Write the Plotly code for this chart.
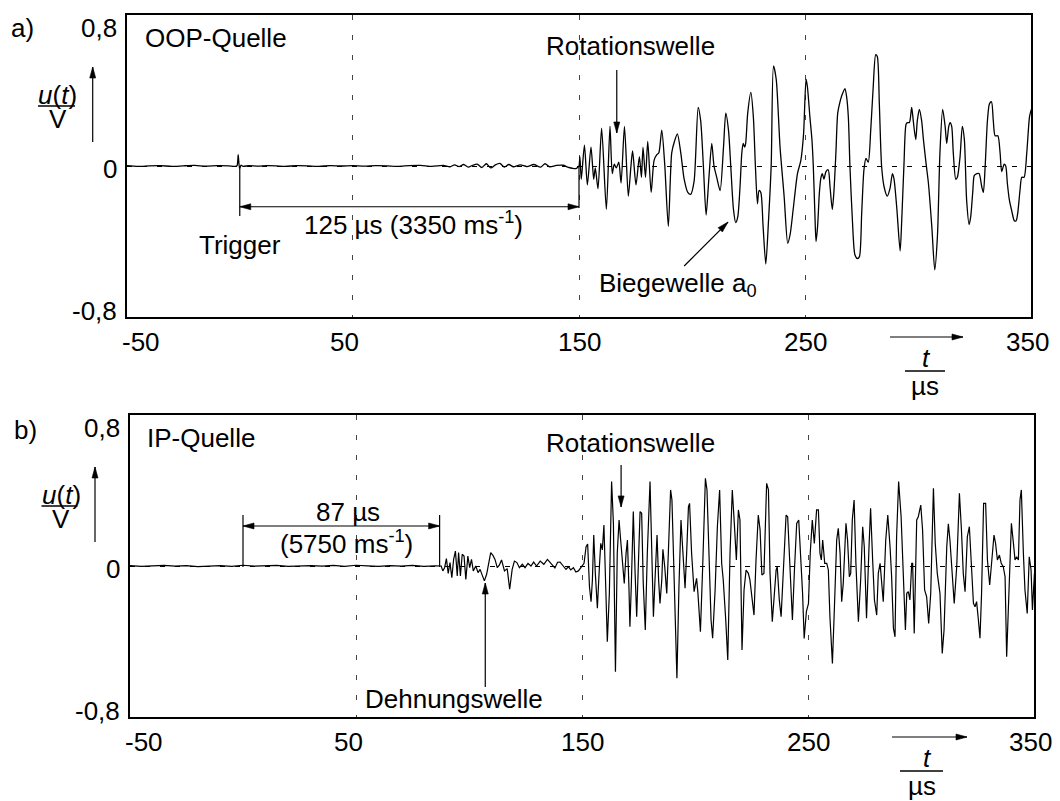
import math
import plotly.graph_objects as go

# ---------------- data ----------------
x_ticks = [-50, 50, 150, 250, 350]
x_tick_text = ["-50", "50", "150", "250", "350"]
y_ticks = [-0.8, 0, 0.8]
y_tick_text = ["-0,8", "0", "0,8"]
grid_t = [50, 150, 250]

# panel a) OOP source: baseline before arrival (t in µs, u in V)
a_pre_t = [-50, -45, -40, -35, -30, -25, -20, -15, -10, -5,
           -2, -1.2, -0.7, -0.1, 0.5, 1.5, 4, 8, 12, 16,
           20, 25, 30, 35, 40, 45, 50, 55, 60, 65,
           70, 75, 80, 85, 90, 93, 95, 97, 99, 101,
           103, 105, 107, 109, 111, 113, 115, 117, 119, 121,
           124, 127, 130, 133, 135, 137, 140, 143, 145, 147,
           148.5, 149.5]
a_pre_v = [0.002, -0.002, 0.001, 0.002, -0.002, 0.001, 0.003, -0.001, 0.002, 0.001,
           -0.002, 0.002, 0.060, -0.013, 0.004, -0.002, 0.002, -0.001, 0.002, 0.001,
           -0.002, 0.002, 0.001, -0.002, 0.002, 0.000, 0.002, -0.001, 0.002, 0.001,
           -0.002, 0.002, 0.003, -0.002, 0.003, -0.004, 0.006, -0.003, 0.008, -0.006,
           0.004, 0.010, -0.008, 0.012, -0.010, 0.006, 0.014, -0.006, 0.008, -0.004,
           0.006, -0.003, 0.008, -0.006, 0.012, -0.004, 0.003, 0.004, -0.006, -0.012,
           -0.014, -0.006]

# panel a) signal
a_sig_t = [150.0, 150.4, 151.0, 152.4, 153.7, 155.3, 156.5, 157.2, 158.4, 160.0,
           162.1, 163.7, 164.7, 165.6, 166.5, 167.6, 168.6, 170.1, 171.8, 172.9,
           173.7, 175.2, 176.7, 177.6, 178.3, 179.4, 180.4, 181.9, 183.2, 184.4,
           185.3, 186.6, 187.9, 189.5, 191.0, 192.2, 193.5, 195.0, 196.5, 198.1,
           199.4, 200.9, 202.7, 203.8, 205.0, 206.2, 207.4, 208.7, 209.7, 210.9,
           212.4, 213.9, 214.9, 216.1, 217.1, 218.3, 219.3, 220.2, 221.2, 222.0,
           222.6, 223.2, 223.7, 224.6, 226.0, 227.1, 228.0, 228.9, 229.6, 230.4,
           231.4, 232.6, 233.8, 235.0, 236.0, 237.2, 238.9, 240.7, 242.3, 243.4,
           244.8, 246.6, 248.1, 249.3, 250.4, 251.0, 252.1, 253.0, 253.6, 254.3,
           254.8, 255.5, 256.3, 257.0, 257.6, 258.3, 259.2, 260.2, 261.0, 262.0,
           262.7, 263.6, 264.4, 265.4, 266.4, 267.6, 268.3, 269.1, 269.8, 270.9,
           272.0, 273.1, 274.0, 275.0, 276.0, 276.9, 277.9, 279.0, 280.1, 281.2,
           281.9, 282.8, 283.8, 284.9, 286.3, 287.5, 288.6, 289.3, 290.5, 292.0,
           292.7, 293.7, 294.6, 295.2, 296.1, 297.1, 297.8, 298.9, 299.6, 300.5,
           301.5, 302.3, 303.5, 304.5, 306.0, 307.3, 308.5, 309.6, 310.8, 311.9,
           312.6, 313.5, 314.1, 314.8, 315.5, 316.6, 317.3, 318.5, 319.5, 320.4,
           321.4, 322.5, 323.2, 324.1, 324.8, 325.9, 326.9, 328.1, 328.8, 329.6,
           330.6, 331.5, 332.4, 333.2, 334.0, 335.2, 336.2, 336.9, 338.0, 338.7,
           339.4, 340.3, 341.4, 342.5, 343.3, 344.0, 345.0, 345.8, 346.8, 348.0,
           349.2, 350.0]
a_sig_v = [0.00, 0.05, -0.07, 0.11, -0.10, 0.10, -0.07, -0.01, -0.12, 0.20,
           -0.23, 0.21, -0.04, 0.01, -0.01, 0.02, -0.09, 0.21, -0.16, -0.01,
           0.08, -0.10, 0.05, -0.06, 0.10, -0.06, 0.13, -0.14, 0.03, 0.06,
           0.07, 0.19, 0.01, -0.32, 0.07, 0.13, 0.17, 0.07, -0.07, -0.14,
           -0.15, -0.08, 0.31, 0.24, 0.00, -0.26, -0.07, 0.12, 0.00, -0.06,
           -0.13, 0.10, 0.28, 0.19, 0.00, -0.23, -0.30, -0.27, -0.11, 0.07,
           0.12, 0.10, 0.12, 0.28, 0.39, 0.26, 0.00, -0.20, -0.13, -0.14,
           -0.32, -0.52, -0.29, 0.01, 0.53, 0.46, 0.10, -0.16, -0.41, -0.36,
           -0.22, -0.04, 0.03, 0.17, 0.46, 0.42, 0.26, 0.14, 0.00, -0.25,
           -0.40, -0.32, -0.14, -0.06, -0.04, -0.07, -0.03, -0.02, -0.11, -0.23,
           -0.14, 0.07, 0.28, 0.34, 0.38, 0.41, 0.37, 0.26, 0.00, -0.29,
           -0.47, -0.49, -0.48, -0.25, -0.02, 0.04, 0.02, 0.19, 0.42, 0.59,
           0.58, 0.33, 0.00, -0.11, -0.16, -0.12, -0.04, -0.07, -0.22, -0.45,
           -0.29, 0.01, 0.22, 0.23, 0.23, 0.31, 0.24, 0.14, 0.24, 0.30,
           0.24, 0.14, 0.01, -0.09, -0.32, -0.55, -0.37, 0.07, 0.30, 0.21,
           0.12, 0.21, 0.23, 0.21, 0.07, -0.07, -0.06, 0.05, 0.21, 0.14,
           -0.18, -0.31, -0.27, -0.14, -0.05, -0.04, -0.04, -0.11, -0.14, 0.00,
           0.24, 0.33, 0.34, 0.24, 0.16, 0.16, 0.07, -0.03, 0.01, 0.00,
           -0.09, -0.18, -0.24, -0.29, -0.29, -0.25, -0.13, -0.06, -0.06, 0.07,
           0.26, 0.30]

# panel b) IP source: baseline before arrival
b_pre_t = [-50, -45, -40, -35, -30, -25, -20, -15, -10, -5,
           0, 5, 10, 15, 20, 25, 30, 35, 40, 45,
           50, 55, 60, 65, 70, 75, 80, 85, 87.7]
b_pre_v = [0.002, -0.002, 0.001, 0.003, -0.001, 0.002, -0.003, 0.001, 0.002, -0.002,
           0.004, -0.001, 0.002, 0.003, -0.002, 0.001, 0.002, -0.001, 0.003, -0.002,
           0.004, 0.001, -0.002, 0.002, -0.001, 0.003, -0.002, 0.001, 0.000]

# panel b) extensional wave (Dehnungswelle)
b_dehn_t = [88.4, 89.2, 90.0, 90.8, 91.6, 92.4, 93.2, 94.0, 94.8, 95.4,
            96.2, 97.0, 97.8, 98.6, 99.5, 100.3, 101.1, 101.9, 103.0, 104.0,
            104.9, 105.9, 106.8, 107.8, 108.7, 109.6, 110.6, 111.5, 112.5, 113.4,
            114.4, 115.7, 116.9, 118.0, 119.1, 120.1, 121.2, 122.3, 123.6, 124.8,
            126.1, 127.4, 128.6, 129.9, 131.5, 133.1, 134.7, 136.3, 138.0, 139.2,
            140.3, 141.7, 142.9, 144.0, 145.0, 146.2, 147.3, 148.4, 149.4]
b_dehn_v = [-0.026, -0.009, 0.039, -0.039, 0.018, -0.062, 0.035, 0.079, -0.053, 0.071,
            -0.053, 0.062, 0.053, -0.071, 0.053, -0.009, 0.035, -0.026, 0.000, -0.035,
            -0.018, -0.053, -0.079, -0.044, 0.018, 0.071, 0.056, 0.035, -0.009, 0.004,
            0.032, -0.026, -0.014, -0.123, -0.018, 0.026, 0.018, -0.009, 0.009, -0.009,
            0.014, 0.000, 0.021, 0.000, 0.026, 0.009, 0.035, 0.010, -0.010, 0.020,
            0.021, 0.000, -0.018, -0.004, -0.021, -0.009, -0.032, -0.026, -0.009]

# panel b) main signal
b_sig_t = [150.0, 150.9, 151.8, 152.5, 153.3, 154.0, 154.6, 155.2, 155.9, 156.8,
           157.7, 158.3, 159.0, 159.7, 160.5, 161.2, 162.1, 163.1, 163.9, 164.8,
           165.6, 166.4, 167.1, 167.9, 168.7, 169.5, 170.1, 170.8, 171.2, 171.8,
           172.7, 173.5, 174.2, 175.1, 175.7, 176.4, 177.1, 178.0, 178.9, 180.1,
           180.8, 181.6, 182.3, 183.2, 183.9, 184.5, 185.3, 185.8, 186.6, 187.5,
           188.2, 189.2, 189.8, 190.7, 192.0, 192.9, 193.8, 194.5, 195.6, 196.3,
           197.1, 197.6, 198.5, 199.6, 200.2, 200.7, 201.3, 202.4, 203.4, 204.6,
           205.3, 206.3, 207.1, 207.8, 208.9, 209.9, 210.9, 211.8, 212.5, 213.6,
           214.5, 215.5, 216.5, 217.4, 218.3, 219.2, 219.9, 220.8, 221.7, 222.6,
           223.6, 224.3, 225.5, 226.1, 227.0, 228.0, 228.8, 229.6, 230.5, 231.7,
           232.5, 233.2, 234.2, 235.1, 235.9, 236.4, 237.3, 238.1, 239.1, 240.3,
           241.0, 242.0, 243.1, 244.0, 245.0, 245.9, 246.8, 247.6, 248.3, 249.3,
           250.2, 251.0, 251.9, 252.8, 253.8, 254.6, 255.3, 255.9, 256.5, 257.4,
           258.3, 259.0, 259.7, 260.8, 261.7, 262.7, 263.4, 264.2, 264.9, 265.6,
           266.8, 267.5, 268.3, 268.9, 269.6, 270.4, 271.2, 272.3, 273.3, 274.2,
           274.9, 275.9, 277.0, 277.7, 278.6, 279.4, 280.4, 281.1, 281.9, 282.6,
           283.3, 284.4, 285.3, 286.3, 287.0, 287.8, 288.5, 289.2, 290.1, 291.2,
           292.2, 293.1, 293.7, 294.4, 295.1, 295.9, 296.3, 297.0, 298.1, 298.8,
           299.9, 300.7, 301.6, 302.5, 303.4, 304.3, 305.5, 306.3, 307.2, 308.4,
           309.4, 310.2, 311.4, 312.1, 312.8, 313.7, 314.7, 315.8, 317.0, 317.9,
           318.7, 319.5, 320.5, 321.4, 322.1, 323.2, 323.9, 324.6, 325.4, 326.1,
           326.8, 327.7, 328.6, 329.4, 330.4, 331.3, 332.3, 333.0, 333.8, 334.7,
           335.5, 336.4, 337.2, 337.9, 339.1, 340.0, 340.9, 341.6, 342.3, 343.1,
           343.8, 344.4, 345.3, 346.0, 347.0, 347.9, 348.7, 349.3, 350.2]
b_sig_v = [-0.004, 0.014, 0.102, 0.117, -0.110, -0.189, -0.074, 0.164, -0.039, -0.224,
           -0.004, 0.120, 0.085, 0.217, -0.110, -0.401, -0.145, 0.447, 0.226, -0.560,
           0.067, 0.244, 0.138, 0.032, -0.092, 0.067, 0.138, -0.127, -0.322, -0.110,
           0.288, -0.039, -0.269, 0.067, 0.288, 0.279, -0.092, -0.339, 0.067, 0.447,
           0.067, -0.269, -0.074, 0.164, -0.074, -0.198, -0.074, 0.088, -0.004, -0.145,
           0.067, 0.403, 0.350, -0.074, -0.595, -0.110, 0.244, 0.102, -0.118, 0.067,
           0.314, 0.332, 0.067, -0.136, -0.092, -0.065, -0.145, -0.348, -0.004, 0.465,
           0.403, 0.067, -0.286, -0.383, -0.127, 0.208, 0.403, 0.014, -0.074, -0.286,
           -0.498, 0.067, 0.403, 0.226, 0.032, 0.297, 0.244, -0.445, -0.127, -0.021,
           -0.039, -0.074, -0.180, -0.260, 0.032, 0.270, 0.191, -0.048, -0.039, 0.438,
           0.403, -0.039, -0.295, -0.163, -0.021, -0.004, -0.180, -0.269, -0.004, 0.270,
           0.261, -0.004, -0.286, -0.021, 0.226, 0.244, 0.067, -0.145, -0.384, -0.240,
           -0.200, 0.070, 0.244, 0.120, 0.297, 0.297, 0.067, 0.032, 0.138, 0.014,
           0.014, -0.021, -0.269, -0.516, -0.216, 0.138, 0.200, 0.067, -0.189, -0.092,
           0.226, 0.138, -0.057, -0.039, 0.244, 0.350, 0.014, -0.295, -0.074, 0.208,
           0.102, -0.277, 0.102, 0.306, 0.032, -0.180, -0.260, -0.039, 0.014, -0.110,
           -0.189, 0.138, 0.270, 0.102, -0.057, -0.330, -0.375, 0.155, 0.447, 0.261,
           -0.118, -0.339, -0.145, -0.136, -0.180, 0.014, 0.014, -0.357, 0.244, 0.261,
           0.323, 0.191, -0.127, -0.163, -0.304, -0.145, 0.412, 0.120, -0.039, -0.145,
           -0.463, -0.339, 0.102, 0.223, 0.138, -0.039, -0.198, -0.004, 0.385, 0.191,
           -0.039, -0.136, 0.155, 0.208, 0.032, -0.198, -0.216, -0.189, -0.286, -0.383,
           -0.145, 0.332, 0.332, 0.032, -0.101, 0.049, 0.164, 0.120, 0.032, 0.058,
           0.014, -0.004, -0.057, -0.481, -0.004, 0.226, 0.120, 0.032, 0.049, 0.032,
           0.350, 0.403, 0.067, -0.127, -0.251, 0.049, -0.021, -0.233, -0.039]

# ---------------- geometry ----------------
W, H = 1060, 801
A_X, A_Y = (126.7, 1031.3), (15.0, 317.0)   # plot area of panel a (px)
B_X, B_Y = (130.0, 1034.0), (415.0, 717.0)   # plot area of panel b (px)
X_RANGE, Y_RANGE = [-50, 350], [-0.8, 0.8]


def xdom(p):
    return [p[0] / W, p[1] / W]


def ydom(p):
    return [1 - p[1] / H, 1 - p[0] / H]


def px_x(px):
    return px / W


def px_y(py):
    return 1 - py / H


SCALE = {
    "a": ((A_X[1] - A_X[0]) / (X_RANGE[1] - X_RANGE[0]), (A_Y[1] - A_Y[0]) / (Y_RANGE[1] - Y_RANGE[0])),
    "b": ((B_X[1] - B_X[0]) / (X_RANGE[1] - X_RANGE[0]), (B_Y[1] - B_Y[0]) / (Y_RANGE[1] - Y_RANGE[0])),
    "paper": (W, H),
}
REFS = {"a": ("x", "y"), "b": ("x2", "y2"), "paper": ("paper", "paper")}

FONT_FAMILY = "Liberation Sans, Arial, Helvetica, sans-serif"
FS = 26

shapes = []
annotations = []


def add_line(panel, x0, y0, x1, y1, width=1.2):
    xr, yr = REFS[panel]
    shapes.append(dict(type="line", xref=xr, yref=yr, x0=x0, y0=y0, x1=x1, y1=y1,
                       line=dict(color="black", width=width), layer="above"))


def add_head(panel, xt, yt, dxp, dyp, L=11.0, hw=3.0):
    xr, yr = REFS[panel]
    n = math.hypot(dxp, dyp)
    ux, uy = dxp / n, dyp / n
    bx, by = -L * ux, -L * uy
    qx, qy = -uy * hw, ux * hw
    path = "M0,0 L{:.2f},{:.2f} L{:.2f},{:.2f} Z".format(bx + qx, by + qy, bx - qx, by - qy)
    shapes.append(dict(type="path", xref=xr, yref=yr, xsizemode="pixel", ysizemode="pixel",
                       xanchor=xt, yanchor=yt, path=path, fillcolor="black",
                       line=dict(color="black", width=0.6), layer="above"))


def add_arrow(panel, x0, y0, x1, y1, both=False, width=1.2):
    sx, sy = SCALE[panel]
    add_line(panel, x0, y0, x1, y1, width)
    dxp, dyp = (x1 - x0) * sx, (y1 - y0) * sy
    add_head(panel, x1, y1, dxp, dyp)
    if both:
        add_head(panel, x0, y0, -dxp, -dyp)


def add_text(panel, x, y, text, xanchor="center", yanchor="middle", xshift=0, yshift=0, size=FS):
    xr, yr = REFS[panel]
    annotations.append(dict(x=x, y=y, xref=xr, yref=yr, text=text, showarrow=False,
                            xanchor=xanchor, yanchor=yanchor, xshift=xshift, yshift=yshift,
                            font=dict(family=FONT_FAMILY, size=size, color="black")))


# ---------------- figure ----------------
fig = go.Figure()
fig.add_trace(go.Scatter(x=a_pre_t + a_sig_t, y=a_pre_v + a_sig_v, mode="lines",
                         line=dict(color="black", width=1.3, shape="spline", smoothing=0.7),
                         xaxis="x", yaxis="y", hoverinfo="skip"))
fig.add_trace(go.Scatter(x=b_pre_t + b_dehn_t + b_sig_t, y=b_pre_v + b_dehn_v + b_sig_v, mode="lines",
                         line=dict(color="black", width=1.2),
                         xaxis="x2", yaxis="y2", hoverinfo="skip"))

xcommon = dict(range=X_RANGE, tickvals=grid_t, showticklabels=False, ticks="",
               showgrid=True, gridcolor="#444444", gridwidth=1, griddash="5px,15px",
               zeroline=False, showline=True, mirror=True, linecolor="black", linewidth=2)
ycommon = dict(range=Y_RANGE, tickvals=[0], showticklabels=False, ticks="",
               showgrid=True, gridcolor="black", gridwidth=1, griddash="5px,10px",
               zeroline=False, showline=True, mirror=True, linecolor="black", linewidth=2)

# tick labels (offsets as in the original drawing)
x_label_shift = [14, -8, 0, 0, -4]
y_label_shift = [6, -3, -13]
for panel in ("a", "b"):
    for t, txt, dx in zip(x_ticks, x_tick_text, x_label_shift):
        add_text(panel, t, Y_RANGE[0], txt, xshift=dx, yshift=-25)
    for v, txt, dy in zip(y_ticks, y_tick_text, y_label_shift):
        add_text(panel, X_RANGE[0], v, txt, xanchor="right", xshift=-8, yshift=dy)

# ---- panel a annotations ----
add_text("a", -42.8, 0.678, "OOP-Quelle", xanchor="left")
add_text("a", 211.0, 0.636, "Rotationswelle", xanchor="right")
add_arrow("a", 166.7, 0.509, 166.7, 0.175)
add_text("a", 0.1, -0.419, "Trigger")
add_line("a", 0.0, -0.005, 0.0, -0.265)
add_line("a", 150.0, 0.0, 150.0, -0.222)
add_arrow("a", 0.0, -0.216, 150.0, -0.216, both=True)
add_text("a", 27.4, -0.302, "125 µs (3350 ms<sup>-1</sup>)", xanchor="left")
add_text("a", 157.8, -0.630, "Biegewelle a<sub>0</sub>", xanchor="left")
add_arrow("a", 196.5, -0.530, 215.9, -0.297)

# ---- panel b annotations ----
add_text("b", -43.4, 0.678, "IP-Quelle", xanchor="left")
add_text("b", 209.6, 0.652, "Rotationswelle", xanchor="right")
add_arrow("b", 167.3, 0.535, 167.3, 0.313)
add_line("b", 0.0, 0.270, 0.0, -0.005)
add_line("b", 87.0, 0.270, 87.0, -0.005)
add_arrow("b", 0.0, 0.212, 87.0, 0.212, both=True)
add_text("b", 46.5, 0.286, "87 µs")
add_text("b", 46.0, 0.127, "(5750 ms<sup>-1</sup>)")
add_text("b", 53.1, -0.705, "Dehnungswelle", xanchor="left")
add_arrow("b", 107.2, -0.641, 107.2, -0.090)

# ---- panel labels and axis titles (paper pixel positions) ----
for label, (lx, ly) in (("a)", (22.5, 28)), ("b)", (25, 430))):
    add_text("paper", px_x(lx), px_y(ly), label)

for (ux, uy, vy, lx0, lx1, ly, ax, ay0, ay1) in ((57.5, 95, 119, 38, 75, 106, 92.7, 142, 67),
                                                   (61, 495, 519, 41.5, 77.5, 506, 95, 542, 467)):
    add_text("paper", px_x(ux), px_y(uy), "<i>u</i>(<i>t</i>)")
    add_text("paper", px_x(ux), px_y(vy), "V")
    add_line("paper", px_x(lx0), px_y(ly), px_x(lx1), px_y(ly), width=1.5)
    add_arrow("paper", px_x(ax), px_y(ay0), px_x(ax), px_y(ay1))

for (ax0, ax1, ay, tx, ty, fx0, fx1, fy, mx, my) in ((890, 963, 337, 926, 358, 905, 945, 371, 925, 386),
                                                      (892, 967, 737, 927, 758, 900, 943, 771, 922, 786)):
    add_arrow("paper", px_x(ax0), px_y(ay), px_x(ax1), px_y(ay))
    add_text("paper", px_x(tx), px_y(ty), "<i>t</i>")
    add_line("paper", px_x(fx0), px_y(fy), px_x(fx1), px_y(fy), width=1.5)
    add_text("paper", px_x(mx), px_y(my), "µs")

fig.update_layout(
    width=W, height=H, margin=dict(l=0, r=0, t=0, b=0),
    paper_bgcolor="white", plot_bgcolor="white", showlegend=False,
    font=dict(family=FONT_FAMILY, size=FS, color="black"),
    xaxis=dict(domain=xdom(A_X), anchor="y", **xcommon),
    yaxis=dict(domain=ydom(A_Y), anchor="x", **ycommon),
    xaxis2=dict(domain=xdom(B_X), anchor="y2", **xcommon),
    yaxis2=dict(domain=ydom(B_Y), anchor="x2", **ycommon),
    shapes=shapes, annotations=annotations,
)

# remove the browser's default page margin so the figure sits at the window origin
fig.write_html("out.html", config={"displayModeBar": False},
               post_script="document.body.style.margin='0px';document.body.style.overflow='hidden';")
